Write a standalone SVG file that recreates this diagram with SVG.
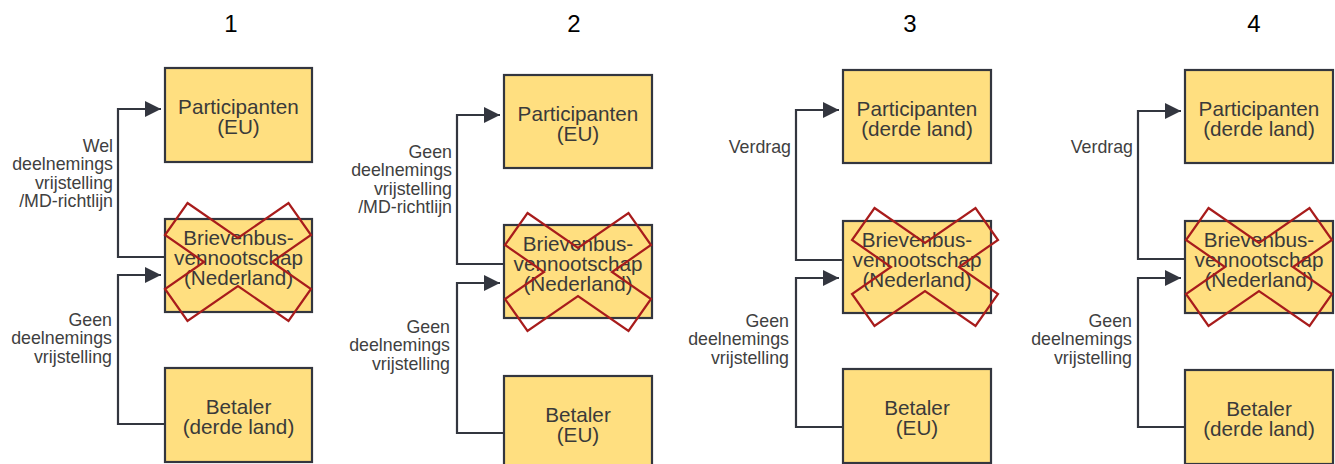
<svg xmlns="http://www.w3.org/2000/svg" width="1335" height="464" viewBox="0 0 1335 464">
<style>
.box{fill:#FFDF80;stroke:#33363F;stroke-width:2.2}
.t{font-family:"Liberation Sans",Arial,sans-serif;font-size:20.7px;fill:#3a3a3a;text-anchor:middle}
.lbl{font-family:"Liberation Sans",Arial,sans-serif;font-size:17.8px;fill:#404040;text-anchor:end}
.title{font-family:"Liberation Sans",Arial,sans-serif;font-size:24px;fill:#000;text-anchor:middle}
.cx{fill:none;stroke:#A81C1C;stroke-width:2.2;stroke-linejoin:miter}
.c{fill:none;stroke:#33363F;stroke-width:2.2;marker-end:url(#ah)}
</style>
<defs>
<marker id="ah" markerUnits="userSpaceOnUse" markerWidth="16" markerHeight="16" refX="14" refY="7" orient="auto" viewBox="0 0 14 14">
<path d="M0,0 L14,7 L0,14 Z" fill="#33363F"/>
</marker>
<polygon id="cross" points="-50.5,-59 0,-24 50.5,-59 73,-27 34,0 73,27 50.5,59 0,24 -50.5,59 -73,27 -34,0 -73,-27"/>
</defs>
<rect width="1335" height="464" fill="#fff"/>
<g id="titles">
<text class="title" x="231" y="32">1</text>
<text class="title" x="574" y="32">2</text>
<text class="title" x="910" y="32">3</text>
<text class="title" x="1254" y="32">4</text>
</g>
<g id="connectors">
<path class="c" d="M165,257 H118 V109 H161"/>
<path class="c" d="M165,424 H118 V275 H161"/>
<path class="c" d="M504,264 H457 V115 H500"/>
<path class="c" d="M504,433 H457 V283 H500"/>
<path class="c" d="M843,260 H796 V110 H839"/>
<path class="c" d="M843,427 H796 V278 H839"/>
<path class="c" d="M1185,259 H1138 V111 H1181"/>
<path class="c" d="M1185,427 H1138 V278 H1181"/>
<text class="lbl" x="113" y="152">Wel</text>
<text class="lbl" x="113" y="170.3">deelnemings</text>
<text class="lbl" x="113" y="188.6">vrijstelling</text>
<text class="lbl" x="113" y="207">/MD-richtlijn</text>
<text class="lbl" x="112" y="326">Geen</text>
<text class="lbl" x="112" y="344.3">deelnemings</text>
<text class="lbl" x="112" y="362.6">vrijstelling</text>
<text class="lbl" x="452" y="158">Geen</text>
<text class="lbl" x="452" y="176.3">deelnemings</text>
<text class="lbl" x="452" y="194.6">vrijstelling</text>
<text class="lbl" x="452" y="213">/MD-richtlijn</text>
<text class="lbl" x="450" y="333">Geen</text>
<text class="lbl" x="450" y="351.3">deelnemings</text>
<text class="lbl" x="450" y="369.6">vrijstelling</text>
<text class="lbl" x="791" y="153">Verdrag</text>
<text class="lbl" x="789" y="327">Geen</text>
<text class="lbl" x="789" y="345.3">deelnemings</text>
<text class="lbl" x="789" y="363.6">vrijstelling</text>
<text class="lbl" x="1133" y="153">Verdrag</text>
<text class="lbl" x="1132" y="327">Geen</text>
<text class="lbl" x="1132" y="345.3">deelnemings</text>
<text class="lbl" x="1132" y="363.6">vrijstelling</text>
</g>
<g id="p1-participanten"><rect class="box" x="165" y="68" width="147" height="94"/><text class="t" x="238.5" y="114">Participanten</text><text class="t" x="238.5" y="134">(EU)</text></g>
<g id="p1-brievenbus"><rect class="box" x="165" y="219" width="147" height="93"/><text class="t" x="238.5" y="245">Brievenbus-</text><text class="t" x="238.5" y="265">vennootschap</text><text class="t" x="238.5" y="285">(Nederland)</text><use href="#cross" class="cx" transform="translate(238,262)"/></g>
<g id="p1-betaler"><rect class="box" x="165" y="368" width="147" height="94"/><text class="t" x="238.5" y="414">Betaler</text><text class="t" x="238.5" y="434">(derde land)</text></g>
<g id="p2-participanten"><rect class="box" x="504" y="75" width="148" height="93"/><text class="t" x="578" y="121">Participanten</text><text class="t" x="578" y="141">(EU)</text></g>
<g id="p2-brievenbus"><rect class="box" x="504" y="225" width="148" height="93"/><text class="t" x="578" y="251">Brievenbus-</text><text class="t" x="578" y="271">vennootschap</text><text class="t" x="578" y="291">(Nederland)</text><use href="#cross" class="cx" transform="translate(578,272)"/></g>
<g id="p2-betaler"><rect class="box" x="504" y="376" width="148" height="94"/><text class="t" x="578" y="422">Betaler</text><text class="t" x="578" y="442">(EU)</text></g>
<g id="p3-participanten"><rect class="box" x="843" y="70" width="148" height="93"/><text class="t" x="917" y="116">Participanten</text><text class="t" x="917" y="136">(derde land)</text></g>
<g id="p3-brievenbus"><rect class="box" x="843" y="221" width="148" height="92"/><text class="t" x="917" y="247">Brievenbus-</text><text class="t" x="917" y="267">vennootschap</text><text class="t" x="917" y="287">(Nederland)</text><use href="#cross" class="cx" transform="translate(925,267)"/></g>
<g id="p3-betaler"><rect class="box" x="843" y="369" width="148" height="94"/><text class="t" x="917" y="415">Betaler</text><text class="t" x="917" y="435">(EU)</text></g>
<g id="p4-participanten"><rect class="box" x="1185" y="70" width="148" height="93"/><text class="t" x="1259" y="116">Participanten</text><text class="t" x="1259" y="136">(derde land)</text></g>
<g id="p4-brievenbus"><rect class="box" x="1185" y="221" width="148" height="92"/><text class="t" x="1259" y="247">Brievenbus-</text><text class="t" x="1259" y="267">vennootschap</text><text class="t" x="1259" y="287">(Nederland)</text><use href="#cross" class="cx" transform="translate(1259,267)"/></g>
<g id="p4-betaler"><rect class="box" x="1185" y="370" width="148" height="94"/><text class="t" x="1259" y="416">Betaler</text><text class="t" x="1259" y="436">(derde land)</text></g>
</svg>
